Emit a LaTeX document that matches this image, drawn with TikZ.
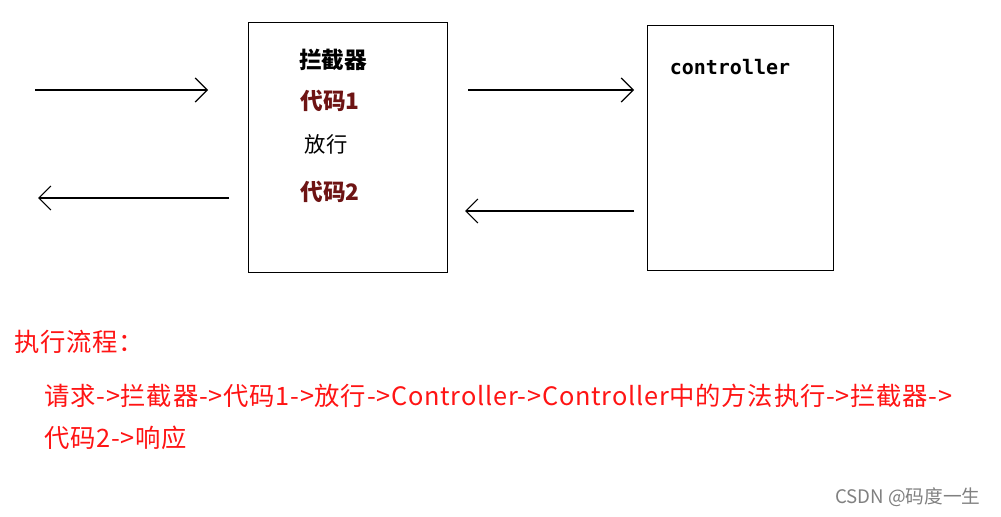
\documentclass[tikz,border=0pt]{standalone}
\usepackage{fontspec}
\setmainfont{Noto Sans CJK SC}
\setmonofont{DejaVu Sans Mono}
\usetikzlibrary{arrows.meta}
\definecolor{dred}{RGB}{110,20,20}
\definecolor{rtxt}{RGB}{255,20,20}
\begin{document}
\begin{tikzpicture}[x=0.75pt,y=-0.75pt,
  box/.style={draw,line width=1pt},
  arr/.style={line width=0.9pt,-{Straight Barb[length=9pt,width=18pt,line width=0.9pt]}},
  lbl/.style={font=\fontsize{17}{20}\selectfont\bfseries},
  red/.style={text=rtxt,font=\fontsize{19}{22}\selectfont\addfontfeature{LetterSpace=3},anchor=west,inner sep=0}]
\useasboundingbox[fill=white] (0,0) rectangle (1001,517);
\node[box,minimum width=199pt*0.75,minimum height=250pt*0.75,anchor=north west] (b1) at (248,22) {};
\node[box,minimum width=186pt*0.75,minimum height=245pt*0.75,anchor=north west] (b2) at (647,25) {};
\node[lbl] (t1) at (333,60) {拦截器};
\node[lbl,text=dred] (t2) at (330,101) {代码1};
\node[font=\fontsize{16}{18}\selectfont] (t3) at (326,144) {放行};
\node[lbl,text=dred] (t4) at (330,192) {代码2};
\node[font=\ttfamily\bfseries\fontsize{15}{17}\selectfont] (t5) at (730,67) {controller};
\coordinate (a1) at (35,90); \coordinate (a2) at (208,90);
\coordinate (a3) at (229,198); \coordinate (a4) at (38,198);
\coordinate (a5) at (468,90); \coordinate (a6) at (634,90);
\coordinate (a7) at (634,211); \coordinate (a8) at (465,211);
\draw[arr] (a1) -- (a2);
\draw[arr] (a3) -- (a4);
\draw[arr] (a5) -- (a6);
\draw[arr] (a7) -- (a8);
\node[red] (r1) at (14,342) {执行流程：};
\node[red] (r2) at (44,396) {请求->拦截器->代码1->放行->Controller->Controller中的方法执行->拦截器->};
\node[red] (r3) at (44,438) {代码2->响应};
\node[text=gray,font=\fontsize{14}{16}\selectfont,anchor=west,inner sep=0] (w) at (835,497) {CSDN @码度一生};
\end{tikzpicture}
\end{document}
